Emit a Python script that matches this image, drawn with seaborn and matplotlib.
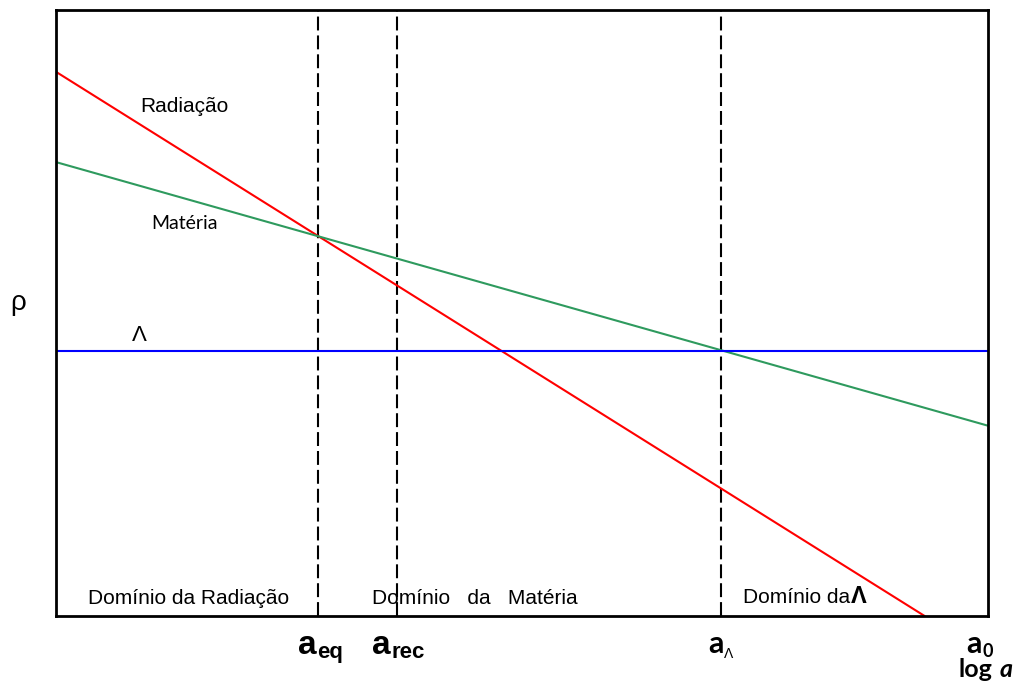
import numpy as np
import pandas as pd
import seaborn as sns
import matplotlib.pyplot as plt

# positions on the log a axis (arbitrary units)
a_eq = 2.81
a_rec = 3.66
a_lam = 7.14
a_0 = 10.0

# density lines, endpoints
rad_x = [0.0, 9.32]
rad_y = [8.98, 0.0]
mat_x = [0.0, 10.0]
mat_y = [7.49, 3.14]
lam_x = [0.0, 10.0]
lam_y = [4.37, 4.37]

df = pd.concat([
    pd.DataFrame({"log_a": rad_x, "rho": rad_y, "comp": "Radiação"}),
    pd.DataFrame({"log_a": mat_x, "rho": mat_y, "comp": "Matéria"}),
    pd.DataFrame({"log_a": lam_x, "rho": lam_y, "comp": "Lambda"}),
])
colors = {"Radiação": "#ff0000", "Matéria": "#2e9a5e", "Lambda": "#0000ff"}

sns.set_theme(style="white")
plt.rcParams['font.family'] = ['Liberation Sans', 'DejaVu Sans']
plt.rcParams['text.color'] = 'black'
plt.rcParams['lines.scale_dashes'] = False

fig = plt.figure(figsize=(10.19, 6.89), dpi=100)
ax = fig.add_axes([56/1019, 1-616/689, 932/1019, 606/689])

sns.lineplot(data=df, x="log_a", y="rho", hue="comp", palette=colors,
             linewidth=1.5, legend=False, ax=ax)

for xv in [a_eq, a_rec, a_lam]:
    ax.axvline(xv, color="black", lw=1.5, linestyle=(0, (10, 3.6)), zorder=1)

ax.set_xlim(0, 10)
ax.set_ylim(0, 10)
ax.set_xlabel("")
ax.set_ylabel("")
ax.set_yticks([])
ax.set_xticks([a_eq, a_rec, a_lam, a_0], ["", "", "", ""])
ax.set_xticks([a_eq, a_rec], minor=True)
ax.tick_params(axis="x", which="major", length=0)
ax.tick_params(axis="x", which="minor", length=7, width=1.5, direction="out",
               color="black", bottom=True)
for s in ax.spines.values():
    s.set_color("black")
    s.set_linewidth(2)

# curve labels
ax.text(0.90, 8.32, "Radiação", fontsize=15)
ax.text(1.02, 6.39, "Matéria", fontsize=14, family="Lato")
ax.text(0.815, 4.54, "Λ", fontsize=16)
fig.text(18/1019, 1-303/689, "ρ", fontsize=20, ha="center", va="center")

# domain labels
ax.text(0.343, 0.198, "Domínio da Radiação", fontsize=15)
ax.text(3.39, 0.198, "Domínio   da   Matéria", fontsize=15)
ax.text(7.37, 0.215, "Domínio da", fontsize=15)
ax.text(8.53, 0.215, "Λ", fontsize=17, fontweight="bold")


def lab(x, s, dx, dy, **kw):
    ax.annotate(s, xy=(x, 0), xycoords=("data", "axes fraction"),
                xytext=(dx, dy), textcoords="offset pixels",
                annotation_clip=False, va="baseline", **kw)


lab(a_eq, "a", -1, -38, fontsize=24, fontweight="bold", ha="right")
lab(a_eq, "eq", -1, -42, fontsize=16, fontweight="bold", ha="left")
lab(a_rec, "a", -6, -38, fontsize=24, fontweight="bold", ha="right")
lab(a_rec, "rec", -6, -42, fontsize=16, fontweight="bold", ha="left")
lab(a_lam, "a", 2, -37, fontsize=22, family="Lato", fontweight="bold", ha="right")
lab(a_lam, "Λ", 2, -42, fontsize=10, ha="left")
lab(a_0, "a", -6, -37, fontsize=22, family="Lato", fontweight="bold", ha="right")
lab(a_0, "0", -6, -41, fontsize=13, family="Lato", fontweight="bold", ha="left")
lab(a_0, "log", 4, -61, fontsize=18, family="Lato", fontweight="bold", ha="right")
lab(a_0, "a", 12, -61, fontsize=18, family="Lato", fontweight="bold", style="italic",
    ha="left")

fig.savefig("out.png", dpi=100)
